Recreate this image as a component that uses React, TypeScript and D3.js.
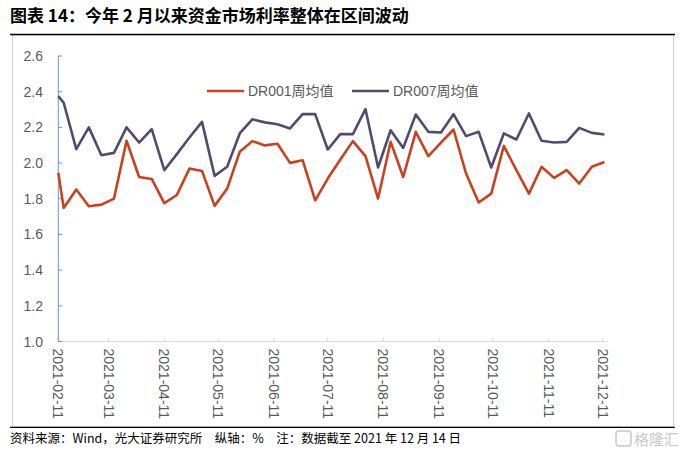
import React from 'react';
import * as d3 from 'd3';

const dates: string[] = [
  '2021-02-11', '2021-02-14', '2021-02-21', '2021-02-28',
  '2021-03-07', '2021-03-14', '2021-03-21', '2021-03-28',
  '2021-04-04', '2021-04-11', '2021-04-18', '2021-04-25',
  '2021-05-02', '2021-05-09', '2021-05-16', '2021-05-23', '2021-05-30',
  '2021-06-06', '2021-06-13', '2021-06-20', '2021-06-27',
  '2021-07-04', '2021-07-11', '2021-07-18', '2021-07-25',
  '2021-08-01', '2021-08-08', '2021-08-15', '2021-08-22', '2021-08-29',
  '2021-09-05', '2021-09-12', '2021-09-19', '2021-09-26',
  '2021-10-03', '2021-10-10', '2021-10-17', '2021-10-24', '2021-10-31',
  '2021-11-07', '2021-11-14', '2021-11-21', '2021-11-28',
  '2021-12-05', '2021-12-12',
];

const dr001: number[] = [
  1.945, 1.748, 1.852, 1.758, 1.767, 1.801, 2.125, 1.922, 1.911, 1.776,
  1.821, 1.969, 1.956, 1.760, 1.857, 2.063, 2.123, 2.099, 2.108, 2.001,
  2.016, 1.791, 1.913, 2.020, 2.123, 2.039, 1.801, 2.119, 1.922, 2.175,
  2.039, 2.115, 2.188, 1.941, 1.779, 1.829, 2.096, 1.960, 1.829, 1.979,
  1.917, 1.960, 1.885, 1.979, 2.006,
];

const dr007: number[] = [
  2.375, 2.338, 2.078, 2.200, 2.044, 2.057, 2.200, 2.115, 2.190, 1.960,
  2.050, 2.143, 2.231, 1.928, 1.979, 2.166, 2.245, 2.228, 2.218, 2.194,
  2.274, 2.274, 2.076, 2.162, 2.162, 2.302, 1.975, 2.184, 2.085, 2.272,
  2.175, 2.171, 2.274, 2.151, 2.175, 1.975, 2.166, 2.132, 2.278, 2.125,
  2.115, 2.119, 2.197, 2.169, 2.160,
];

const xTickLabels: string[] = [
  '2021-02-11', '2021-03-11', '2021-04-11', '2021-05-11', '2021-06-11',
  '2021-07-11', '2021-08-11', '2021-09-11', '2021-10-11', '2021-11-11',
  '2021-12-11',
];

const yTicks: number[] = [1.0, 1.2, 1.4, 1.6, 1.8, 2.0, 2.2, 2.4, 2.6];

const seriesNames = ['DR001周均值', 'DR007周均值'];
const colors = ['#C9411F', '#514B70'];

const W = 688;
const H = 452;
const LATIN = '"Liberation Sans", Arial, "Noto Sans CJK SC", sans-serif';
const CJK = '"Noto Sans CJK SC", "Liberation Sans", sans-serif';

export default function App() {
  const parse = d3.utcParse('%Y-%m-%d');
  const x = d3
    .scaleUtc()
    .domain([parse('2021-02-11') as Date, parse('2021-12-14') as Date])
    .range([58.3, 608]);
  const y = d3.scaleLinear().domain([1.0, 2.6]).range([341.5, 56]);

  const pts = dates.map((d) => parse(d) as Date);
  const line = d3
    .line<number>()
    .x((_, i) => x(pts[i]))
    .y((v) => y(v));

  const series = [dr001, dr007];

  return (
    <svg
      width={W}
      height={H}
      viewBox={`0 0 ${W} ${H}`}
      style={{ position: 'absolute', left: 0, top: 0, background: '#fff' }}
    >
      {/* Title */}
      <text x={10} y={22} fontFamily={CJK} fontWeight={700} fontSize={17} fill="#000">
        图表 14：今年 2 月以来资金市场利率整体在区间波动
      </text>
      {/* chart box */}
      <rect x={12.5} y={35} width={661} height={392} fill="none" stroke="#d0d0d0" strokeWidth={1} />
      <line x1={10} x2={675} y1={34.5} y2={34.5} stroke="#000" strokeWidth={1.5} />
      <line x1={10} x2={675} y1={427.3} y2={427.3} stroke="#000" strokeWidth={1.2} />

      {/* x axis */}
      <line x1={x.range()[0]} x2={x.range()[1]} y1={y(1.0)} y2={y(1.0)} stroke="#d9d9d9" strokeWidth={1} />
      {xTickLabels.map((t) => {
        const xx = x(parse(t) as Date);
        return (
          <g key={t}>
            <line x1={xx} x2={xx} y1={y(1.0)} y2={y(1.0) - 4} stroke="#d9d9d9" strokeWidth={1} />
            <text
              transform={`translate(${xx},${y(1.0) + 7}) rotate(90)`}
              textAnchor="start"
              dominantBaseline="central"
              fontFamily={LATIN}
              fontSize={14}
              fill="#595959"
            >
              {t}
            </text>
          </g>
        );
      })}

      {/* y axis */}
      <line x1={58.3} x2={58.3} y1={y(2.6)} y2={y(1.0)} stroke="#5B9BD5" strokeWidth={1} />
      {yTicks.map((t) => (
        <g key={t}>
          <line x1={58.3} x2={62.3} y1={y(t)} y2={y(t)} stroke="#5B9BD5" strokeWidth={1} />
          <text
            x={43}
            y={y(t)}
            textAnchor="end"
            dominantBaseline="central"
            fontFamily={LATIN}
            fontSize={14}
            fill="#595959"
          >
            {t.toFixed(1)}
          </text>
        </g>
      ))}

      {/* lines */}
      {series.map((s, i) => (
        <path
          key={i}
          d={line(s) || ''}
          fill="none"
          stroke={colors[i]}
          strokeWidth={2.6}
          strokeLinejoin="round"
        />
      ))}

      {/* legend */}
      {seriesNames.map((n, i) => {
        const lx = 207 + i * 145;
        return (
          <g key={n}>
            <line x1={lx} x2={lx + 37} y1={91} y2={91} stroke={colors[i]} strokeWidth={2.6} />
            <text x={lx + 41} y={91} dominantBaseline="central" fontFamily={LATIN} fontSize={14} fill="#595959">
              {n}
            </text>
          </g>
        );
      })}

      {/* footer */}
      <text x={10} y={443} fontFamily={CJK} fontSize={12.5} fill="#000">
        资料来源：Wind，光大证券研究所　纵轴：%　注：数据截至 2021 年 12 月 14 日
      </text>
      {/* watermark */}
      <rect x={616} y={431} width={15} height={15} rx={3} fill="none" stroke="#c8c8c8" strokeWidth={1.5} />
      <text x={634} y={445} fontFamily={CJK} fontSize={15} fill="#c8c8c8">
        格隆汇
      </text>
    </svg>
  );
}
